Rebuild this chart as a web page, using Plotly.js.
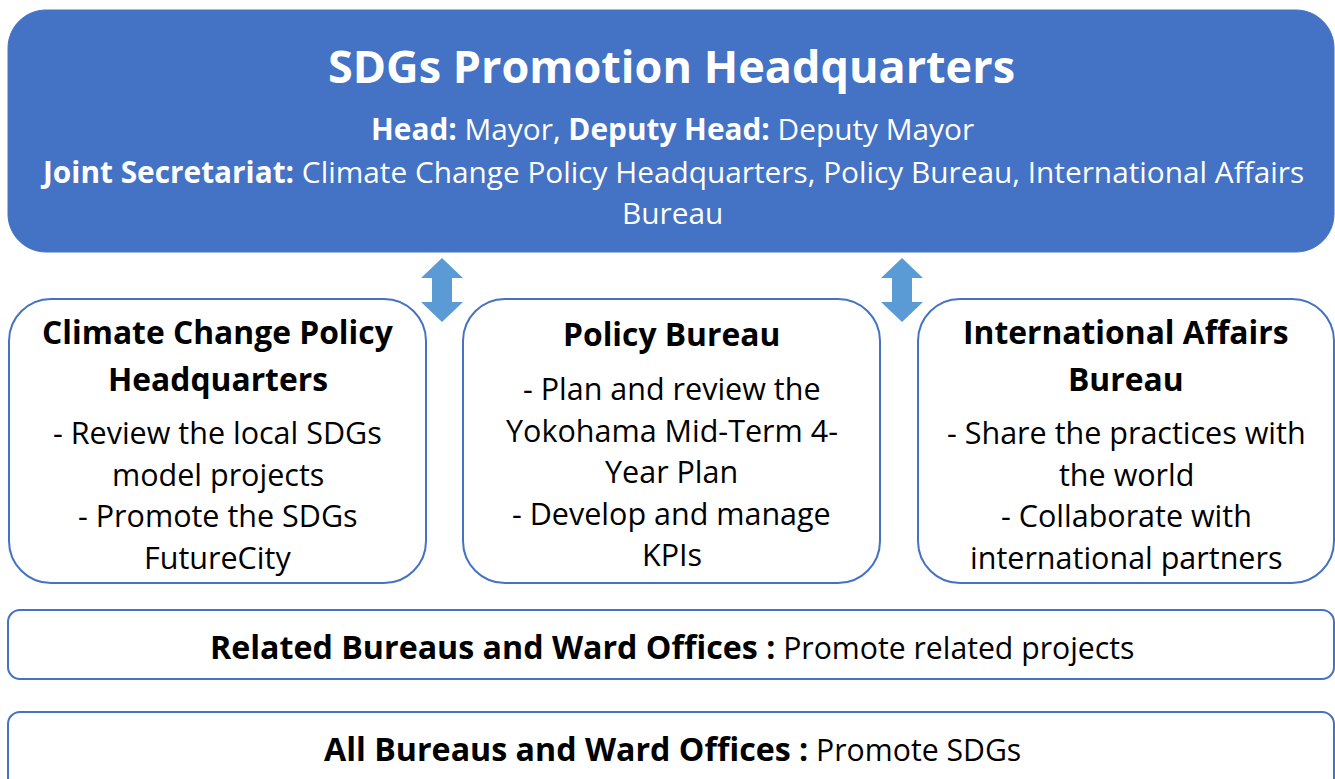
<!DOCTYPE html>
<html>
<head>
<meta charset="utf-8">
<script src="https://cdn.plot.ly/plotly-3.0.1.min.js"></script>
<style>html,body{margin:0;padding:0;background:#fff;}#chart{width:1335px;height:779px;}</style>
</head>
<body>
<div id="chart"></div>
<script>
// ---- content ----
const headerTitle = "SDGs Promotion Headquarters";
const headerLines = [
  "<b>Head:</b> Mayor, <b>Deputy Head:</b> Deputy Mayor",
  "<b>Joint Secretariat:</b> Climate Change Policy Headquarters, Policy Bureau, International Affairs",
  "Bureau"
];
const boxTitles = [
  ["Climate Change Policy", "Headquarters"],
  ["Policy Bureau"],
  ["International Affairs", "Bureau"]
];
const boxLines = [
  ["- Review the local SDGs", "model projects", "- Promote the SDGs", "FutureCity"],
  ["- Plan and review the", "Yokohama Mid-Term 4-", "Year Plan", "- Develop and manage", "KPIs"],
  ["- Share the practices with", "the world", "- Collaborate with", "international partners"]
];
const tierLabels = ["Related Bureaus and Ward Offices :", "All Bureaus and Ward Offices :"];
const tierTexts = ["Promote related projects", "Promote SDGs"];

// ---- geometry / style ----
const W = 1335, H = 779;
const BLUE = "#4472C4", ARROW = "#5B9BD5";
const FONT = "Open Sans";

function rr(x0, y0, x1, y1, r) {
  const k = 0.5523 * r;
  return `M${x0+r},${y0} L${x1-r},${y0} C${x1-r+k},${y0} ${x1},${y0+r-k} ${x1},${y0+r} ` +
         `L${x1},${y1-r} C${x1},${y1-r+k} ${x1-r+k},${y1} ${x1-r},${y1} ` +
         `L${x0+r},${y1} C${x0+r-k},${y1} ${x0},${y1-r+k} ${x0},${y1-r} ` +
         `L${x0},${y0+r} C${x0},${y0+r-k} ${x0+r-k},${y0} ${x0+r},${y0} Z`;
}
function dblArrow(cx, top, bot, hw, hh, sw) {
  return `M${cx},${top} L${cx+hw},${top+hh} L${cx+sw},${top+hh} L${cx+sw},${bot-hh} L${cx+hw},${bot-hh} ` +
         `L${cx},${bot} L${cx-hw},${bot-hh} L${cx-sw},${bot-hh} L${cx-sw},${top+hh} L${cx-hw},${top+hh} Z`;
}

const shapes = [];
const annotations = [];

// header box
shapes.push({type: "path", xref: "x", yref: "y", path: rr(8, 10, 1334, 252, 38),
  fillcolor: BLUE, line: {color: BLUE, width: 1}, layer: "below"});
annotations.push({x: 671, y: 65, text: "<b>" + headerTitle + "</b>",
  font: {family: FONT, size: 45, color: "#ffffff"}});
const headerY = [128, 171, 212];
headerLines.forEach((t, i) => annotations.push({x: 672, y: headerY[i], text: t,
  font: {family: FONT, size: 29.8, color: "#ffffff"}}));

// arrows
[442, 902].forEach(cx => shapes.push({type: "path", xref: "x", yref: "y",
  path: dblArrow(cx, 258, 322, 21, 20, 10), fillcolor: ARROW, line: {width: 0}}));

// middle boxes
const boxX = [[9, 426], [463, 880], [918, 1334]];
const titleTop = [331, 333, 331];
boxX.forEach(([x0, x1], b) => {
  shapes.push({type: "path", xref: "x", yref: "y", path: rr(x0, 299, x1, 583, 42),
    fillcolor: "rgba(0,0,0,0)", line: {color: BLUE, width: 2}});
  const cx = (x0 + x1) / 2;
  let y = titleTop[b];
  boxTitles[b].forEach((t, i) => {
    y = titleTop[b] + i * 47;
    annotations.push({x: cx, y: y, text: "<b>" + t + "</b>",
      font: {family: FONT, size: 31.8, color: "#000000"}});
  });
  const bodyTop = y + (b === 1 ? 55 : 54);
  boxLines[b].forEach((t, i) => annotations.push({x: cx, y: bodyTop + i * 41.5, text: t,
    font: {family: FONT, size: 30.5, color: "#000000"}}));
});

// bottom tiers
const tierBox = [[610, 679], [712, 790]];
const tierY = [646, 748];
tierLabels.forEach((lab, i) => {
  shapes.push({type: "path", xref: "x", yref: "y", path: rr(8, tierBox[i][0], 1334, tierBox[i][1], 12),
    fillcolor: "rgba(0,0,0,0)", line: {color: BLUE, width: 2}});
  annotations.push({x: 672, y: tierY[i],
    text: '<b><span style="font-size:32.2px">' + lab + '</span></b> ' + tierTexts[i],
    font: {family: FONT, size: 30.2, color: "#000000"}});
});

annotations.forEach(a => {
  a.xref = "x"; a.yref = "y"; a.showarrow = false;
  a.xanchor = "center"; a.yanchor = "middle";
});

const layout = {
  width: W, height: H,
  margin: {l: 0, r: 0, t: 0, b: 0, pad: 0},
  paper_bgcolor: "#ffffff", plot_bgcolor: "#ffffff",
  xaxis: {range: [0, W], visible: false, fixedrange: true},
  yaxis: {range: [H, 0], visible: false, fixedrange: true},
  showlegend: false,
  shapes: shapes,
  annotations: annotations
};
Plotly.newPlot("chart", [], layout, {staticPlot: true, displayModeBar: false});
</script>
</body>
</html>
